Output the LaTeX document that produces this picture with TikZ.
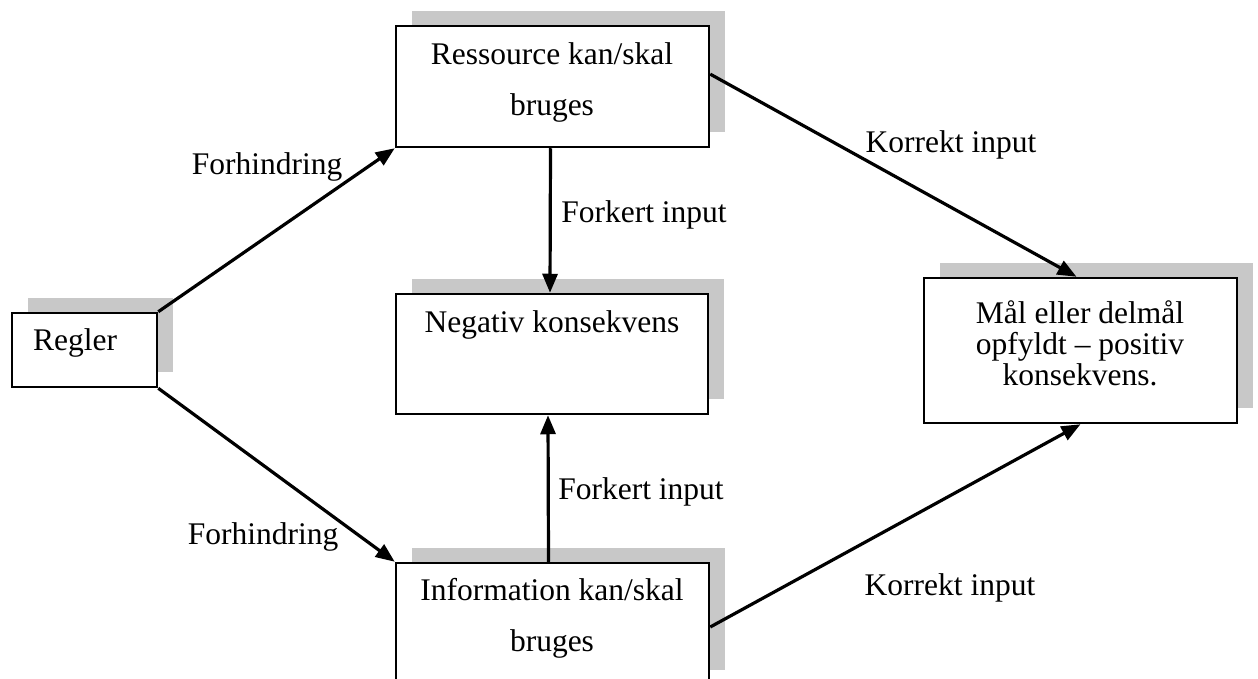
\documentclass[tikz,border=0pt]{standalone}
\usepackage{fontspec}
\setmainfont{Liberation Serif}
\usetikzlibrary{arrows.meta,shadows,calc}
\definecolor{shadowgray}{RGB}{200,200,200}
\begin{document}
\begin{tikzpicture}[x=1pt,y=-1pt,
  box/.style={draw=black,line width=2.5pt,fill=white,inner sep=0pt,
    general shadow={fill=shadowgray,shadow xshift=16pt,shadow yshift=15pt}},
  txt/.style={inner sep=0pt,align=center,font=\fontsize{31.5}{51}\selectfont},
  lbl/.style={inner sep=0pt,font=\fontsize{31.5}{36}\selectfont},
  flow/.style={line width=3.2pt,-{Triangle[length=19pt,width=15pt]}}]
\clip (0,0) rectangle (1258,679);
\fill[white] (0,0) rectangle (1258,679);

% boxes
\node[box,minimum width=145pt,minimum height=74pt] (regler) at (84.5,350) {};
\node[box,minimum width=313pt,minimum height=121pt] (res) at (552.5,86.5) {};
\node[box,minimum width=312pt,minimum height=120pt] (neg) at (552,354) {};
\node[box,minimum width=313pt,minimum height=122pt] (info) at (552.5,624) {};
\node[box,minimum width=313pt,minimum height=145pt] (maal) at (1080.5,350.5) {};

% box texts
\node[txt,anchor=west] (tregler) at (33,343) {Regler};
\node[txt] (tres) at (552,82) {Ressource kan/skal\\bruges};
\node[txt] (tneg) at (552,325) {Negativ konsekvens};
\node[txt] (tinfo) at (552,618) {Information kan/skal\\bruges};
\node[txt,font=\fontsize{31.5}{31}\selectfont] (tmaal) at (1080,343) {Mål eller delmål\\opfyldt – positiv\\konsekvens.};

% connectors
\draw[flow] (regler.north east) -- (res.south west);
\draw[flow] (regler.south east) -- (info.north west);
\draw[flow] ($(res.south)+(-2,0)$) -- ($(neg.north)+(-2,0)$);
\draw[flow] ($(info.north)+(-4,0)$) -- ($(neg.south)+(-4,0)$);
\draw[flow] ($(res.north east)!0.4!(res.south east)$) -- ($(maal.north)+(-4,0)$);
\draw[flow] ($(info.east)+(0,3)$) -- (maal.south);

% connector labels
\node[lbl] (lf1) at (267,167) {Forhindring};
\node[lbl] (lf2) at (263,537) {Forhindring};
\node[lbl] (lk1) at (644,215) {Forkert input};
\node[lbl] (lk2) at (641,492) {Forkert input};
\node[lbl] (lr1) at (951,145) {Korrekt input};
\node[lbl] (lr2) at (950,588) {Korrekt input};
\end{tikzpicture}
\end{document}
